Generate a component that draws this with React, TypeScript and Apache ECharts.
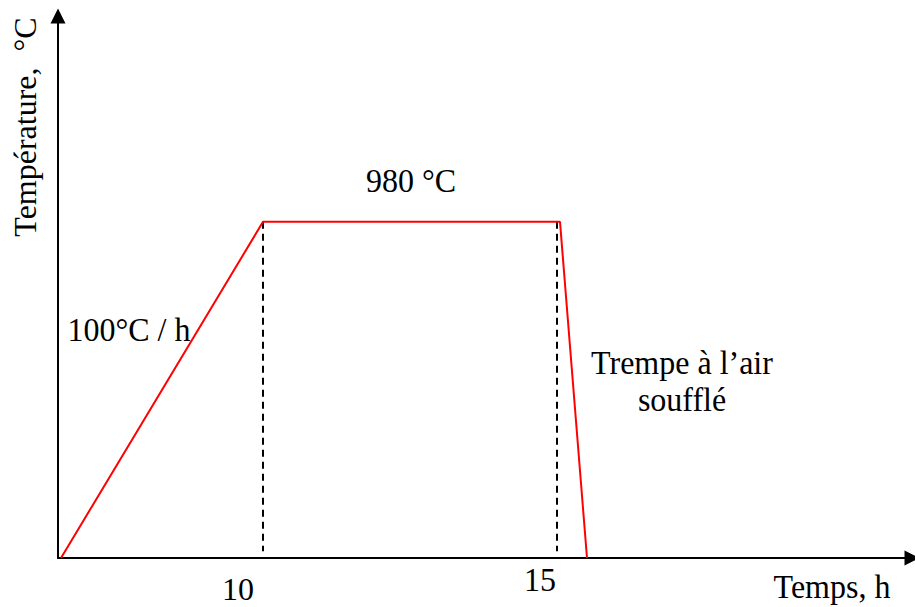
import React, { useEffect, useRef } from "react";
import * as echarts from "echarts";

// Schematic heat-treatment profile (x in schematic time units, y in °C)
const profileTime = [3, 205, 502, 529];
const profileTemp = [0, 980, 980, 0];
const dashTimes = [205, 499];
const dashTop = 980;
const dashBottom = 20;
const xMax = 854;
const yMax = 1580;
const tickLabels = ["10", "15"];
const plateauLabel = "980 °C";
const rampLabel = "100°C / h";
const quenchLabel = ["Trempe à l’air", "soufflé"];
const xName = "Temps, h";
const yName = "Température,  °C";

const FONT = "'Liberation Serif', 'Times New Roman', serif";

export default function App() {
  const ref = useRef<HTMLDivElement>(null);
  useEffect(() => {
    if (!ref.current) return;
    const chart = echarts.init(ref.current, undefined, { renderer: "svg" });
    const txt = (text: string, x: number, y: number, sy = 1.08) => ({
      type: "text",
      x,
      y,
      scaleY: sy,
      style: {
        text,
        fill: "#000",
        font: `32px ${FONT}`,
        textAlign: "center",
        textVerticalAlign: "middle",
      },
    });
    const axisLine = {
      show: true,
      symbol: ["none", "triangle"],
      symbolSize: [15, 15],
      lineStyle: { color: "#000", width: 2 },
    };
    const option: any = {
      animation: false,
      backgroundColor: "#fff",
      grid: { left: 58, right: 3, top: 16, bottom: 49 },
      xAxis: {
        type: "value",
        min: 0,
        max: xMax,
        axisLine,
        axisTick: { show: false },
        axisLabel: { show: false },
        splitLine: { show: false },
      },
      yAxis: {
        type: "value",
        min: 0,
        max: yMax,
        axisLine,
        axisTick: { show: false },
        axisLabel: { show: false },
        splitLine: { show: false },
      },
      series: [
        {
          type: "line",
          data: profileTime.map((t, i) => [t, profileTemp[i]]),
          symbol: "none",
          lineStyle: { color: "#ff0000", width: 2 },
          z: 3,
        },
        ...dashTimes.map((t) => ({
          type: "line",
          data: [
            [t, dashTop],
            [t, dashBottom],
          ],
          symbol: "none",
          lineStyle: { color: "#000", width: 2, type: [7, 5] },
          z: 2,
        })),
      ],
      graphic: [
        txt(plateauLabel, 411, 180),
        txt(rampLabel, 129, 329),
        txt(quenchLabel[0], 682, 362),
        txt(quenchLabel[1], 682, 399),
        txt(tickLabels[0], 238, 589, 1),
        txt(tickLabels[1], 540, 580, 1.04),
        txt(xName, 832, 587, 1.04),
        {
          type: "text",
          x: 25,
          y: 127,
          rotation: Math.PI / 2,
          style: {
            text: yName,
            fill: "#000",
            font: `32px ${FONT}`,
            textAlign: "center",
            textVerticalAlign: "middle",
          },
        },
      ],
    };
    chart.setOption(option);
    return () => chart.dispose();
  }, []);
  return (
    <div
      ref={ref}
      style={{ position: "absolute", left: 0, top: 0, width: 915, height: 607, background: "#fff" }}
    />
  );
}
